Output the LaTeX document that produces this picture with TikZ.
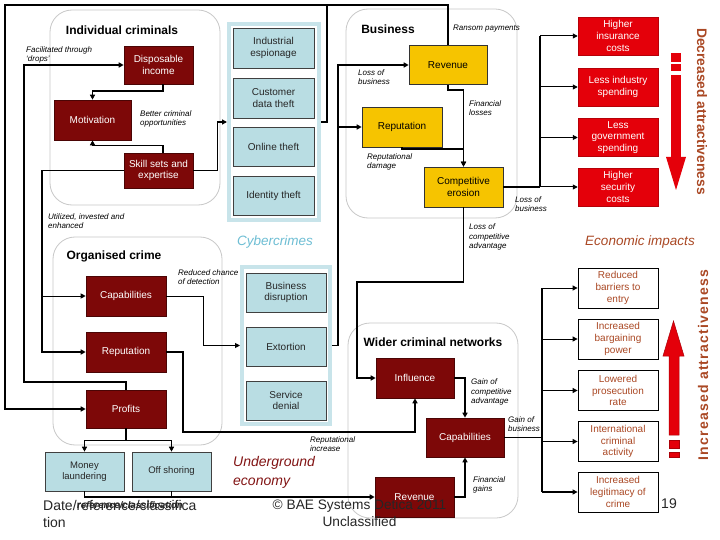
\documentclass[tikz,border=0pt]{standalone}
\usepackage{fontspec}
\setmainfont{Liberation Sans}
\usetikzlibrary{arrows.meta,calc}
\definecolor{dred}{RGB}{125,8,8}
\definecolor{gold}{RGB}{246,196,0}
\definecolor{lblue}{RGB}{185,221,227}
\definecolor{cframe}{RGB}{200,228,234}
\definecolor{bred}{RGB}{228,0,10}
\definecolor{grpgray}{RGB}{200,200,200}
\definecolor{ecbrown}{RGB}{170,72,36}
\definecolor{cybtxt}{RGB}{110,190,212}
\definecolor{ugred}{RGB}{130,20,20}
\begin{document}
\begin{tikzpicture}[x=1pt,y=-1pt,
  grp/.style={draw=grpgray, line width=0.8pt, rounded corners=22pt, rectangle},
  bx/.style={rectangle, align=center, inner sep=1pt, font=\fontsize{10}{11.8}\selectfont},
  drbox/.style={bx, fill=dred, draw=dred!60!black, line width=0.6pt, text=white, minimum width=79pt, minimum height=40pt},
  yebox/.style={bx, fill=gold, draw=black!80, line width=0.6pt, text=black, minimum width=79pt, minimum height=40pt},
  lbbox/.style={bx, fill=lblue, draw=black!75, line width=0.6pt, text=black!85, minimum width=80pt, minimum height=39pt},
  rdbox/.style={bx, fill=bred, draw=bred!80!black, line width=0.5pt, text=white, minimum width=80pt, minimum height=38pt},
  ecbox/.style={bx, fill=white, draw=black, line width=0.8pt, text=ecbrown, minimum width=80pt, minimum height=40pt},
  cframe/.style={rectangle, draw=cframe, line width=4pt, fill=white},
  ttl/.style={font=\fontsize{12}{14}\selectfont\bfseries, inner sep=0pt},
  lab/.style={font=\fontsize{8}{9.6}\selectfont\itshape, align=left, anchor=west, inner sep=0pt},
  conn/.style={line width=1.6pt},
  thinconn/.style={line width=1pt},
  arr/.style={conn, -{Triangle[length=5pt,width=5pt]}},
  tarr/.style={thinconn, -{Triangle[length=5pt,width=5pt]}}
]
\useasboundingbox (0,0) rectangle (720,540);
\fill[white] (0,0) rectangle (720,540);

% groups
\node[grp, minimum width=170pt, minimum height=195pt] (gind) at (135,107.5) {};
\node[grp, minimum width=171pt, minimum height=209pt] (gbus) at (431.5,113.5) {};
\node[grp, minimum width=169pt, minimum height=208pt] (gorg) at (137.5,341) {};
\node[grp, minimum width=170pt, minimum height=195pt] (gwid) at (433,420.5) {};

\node[ttl] (tind) at (122,30) {Individual criminals};
\node[ttl] (tbus) at (388,29) {Business};
\node[ttl] (torg) at (114,256) {Organised crime};
\node[ttl] (twid) at (433,342) {Wider criminal networks};

% cybercrime frames
\node[cframe, minimum width=90pt, minimum height=196pt] (cyb1) at (274,122) {};
\node[cframe, minimum width=88pt, minimum height=157pt] (cyb2) at (286,345.5) {};
\node[font=\fontsize{13.5}{15}\selectfont\itshape, text=cybtxt, inner sep=0pt] (tcyb) at (275,242) {Cybercrimes};

\node[lbbox, minimum width=81pt, minimum height=40pt] (ie) at (273.5,48) {Industrial\\espionage};
\node[lbbox, minimum width=81pt, minimum height=40pt] (cdt) at (273.5,98) {Customer\\data theft};
\node[lbbox, minimum width=81pt, minimum height=39pt] (ot) at (273.5,146.5) {Online theft};
\node[lbbox, minimum width=81pt, minimum height=39pt] (it) at (273.5,195.5) {Identity theft};

\node[lbbox] (bd) at (286,292.5) {Business\\disruption};
\node[lbbox] (ext) at (286,346.5) {Extortion};
\node[lbbox] (sd) at (286,400.5) {Service\\denial};

% individual criminals
\node[drbox, minimum width=69pt, minimum height=38pt] (disp) at (158.5,65) {Disposable\\income};
\node[drbox, minimum width=77pt, minimum height=40pt] (motiv) at (92.5,120) {Motivation};
\node[drbox, minimum width=69pt, minimum height=35pt] (skill) at (158.5,170.5) {Skill sets and\\expertise};

% business
\node[yebox, minimum width=78pt, minimum height=39pt] (brev) at (448,65) {Revenue};
\node[yebox, minimum width=80pt] (brep) at (402,127) {Reputation};
\node[yebox] (bcomp) at (463.5,187) {Competitive\\erosion};

% red impacts
\node[rdbox] (hic) at (618,36) {Higher\\insurance\\costs};
\node[rdbox] (lis) at (618,87) {Less industry\\spending};
\node[rdbox] (lgs) at (618,137.5) {Less\\government\\spending};
\node[rdbox] (hsc) at (618,187) {Higher\\security\\costs};

% organised crime
\node[drbox, minimum width=80pt] (ocap) at (126,296) {Capabilities};
\node[drbox, minimum width=80pt] (orep) at (126,352) {Reputation};
\node[drbox, minimum width=80pt, minimum height=38pt] (oprof) at (126,409) {Profits};
\node[lbbox, minimum width=79pt, font=\fontsize{9.5}{11.5}\selectfont] (mlaund) at (84.5,471.5) {Money\\laundering};
\node[lbbox, minimum width=79pt, font=\fontsize{9.5}{11.5}\selectfont] (offsh) at (171.5,471.5) {Off shoring};

% wider criminal networks
\node[drbox, minimum width=78pt] (infl) at (415,378) {Influence};
\node[drbox, minimum width=78pt, minimum height=39pt] (wcap) at (465,437.5) {Capabilities};
\node[drbox] (wrev) at (414.5,497) {Revenue};

% economic impacts
\node[font=\fontsize{13.5}{15}\selectfont\itshape, text=ecbrown, inner sep=0pt] (tecon) at (640,242) {Economic impacts};
\node[ecbox] (rbe) at (618,288) {Reduced\\barriers to\\entry};
\node[ecbox] (ibp) at (618,339) {Increased\\bargaining\\power};
\node[ecbox] (lpr) at (618,390.5) {Lowered\\prosecution\\rate};
\node[ecbox] (ica) at (618,441.5) {International\\criminal\\activity};
\node[ecbox] (ilc) at (618,492) {Increased\\legitimacy of\\crime};

% junction coordinates
\coordinate (tl) at (5,5);
\coordinate (fac) at (24,65);
\coordinate (uL) at (42,170.5);
\coordinate (cj) at (327,5);
\coordinate (rx) at (540,0);
\coordinate (ex) at (542,0);
\coordinate (j4) at (357,282);
\coordinate (j5) at (183,432);

% connectors
\draw[arr] (disp.south) ++(4.5,0) -- ++(0,7) -| (motiv.north);
\draw[arr] (skill.north) ++(4.5,0) -- ++(0,-7) -| (motiv.south);
\draw[arr] (skill.east) -- ++(24,0) |- (cyb1.west);
\draw[arr] (skill.west) -- (uL) |- (orep.west);
\draw[tarr] (uL |- ocap.west) -- (ocap.west);
\draw[arr] (oprof.north) -- ++(0,-8) -| (fac) -- (disp.west);
\draw[arr] (brev.north) |- (tl) |- (oprof.west);
\draw[conn] (cyb1.east) -| (cj);
\draw[arr] (brep.south) -- ++(0,2) -| (bcomp.north);
\draw[arr] (brev.south) -- ++(0,5) -| (bcomp.north);
\draw[arr] (cyb2.east) -- ++(6,0) |- (brev.west);
\draw[arr] (cyb2.east) ++(6,0) |- (brep.west);
\draw[conn] (bcomp.east) -- (rx |- bcomp.east);
\draw[conn] (rx |- hic.west) -- (rx |- hsc.west);
\draw[tarr] (rx |- hic.west) -- (hic.west);
\draw[tarr] (rx |- lis.west) -- (lis.west);
\draw[tarr] (rx |- lgs.west) -- (lgs.west);
\draw[tarr] (rx |- hsc.west) -- (hsc.west);
\draw[arr] (bcomp.south) |- (j4) |- (infl.west);
\draw[tarr] (ocap.east) -- ++(37,0) |- (cyb2.west);
\draw[arr] (orep.east) -| (j5) -| (infl.south);
\draw[arr] (oprof.south) -- ++(0,12) -| (mlaund.north);
\draw[arr] (oprof.south) -- ++(0,12) -| (offsh.north);
\draw[arr] (mlaund.south) |- (wrev.west);
\draw[conn] (offsh.south) -- ++(0,6);
\draw[arr] (infl.east) -| (wcap.north);
\draw[arr] (wrev.east) -| (wcap.south);
\draw[conn] (wcap.east) -- (ex |- wcap.east);
\draw[conn] (ex |- rbe.west) -- (ex |- ilc.west);
\draw[tarr] (ex |- rbe.west) -- (rbe.west);
\draw[tarr] (ex |- ibp.west) -- (ibp.west);
\draw[tarr] (ex |- lpr.west) -- (lpr.west);
\draw[arr] (ex |- ica.west) -- (ica.west);
\draw[arr] (ex |- ilc.west) -- (ilc.west);

% italic labels
\node[lab] (l1) at (26,55) {Facilitated through\\‘drops’};
\node[lab] (l2) at (140,119) {Better criminal\\opportunities};
\node[lab] (l3) at (48,221) {Utilized, invested and\\enhanced};
\node[lab] (l4) at (358,77) {Loss of\\business};
\node[lab] (l5) at (453,29) {Ransom payments};
\node[lab] (l6) at (469,108) {Financial\\losses};
\node[lab] (l7) at (367,162) {Reputational\\damage};
\node[lab] (l8) at (515,204) {Loss of\\business};
\node[lab] (l9) at (469,237) {Loss of\\competitive\\advantage};
\node[lab] (l10) at (178,277) {Reduced chance\\of detection};
\node[lab] (l11) at (310,444) {Reputational\\increase};
\node[lab] (l12) at (471,392) {Gain of\\competitive\\advantage};
\node[lab] (l13) at (508,424) {Gain of\\business};
\node[lab] (l14) at (473,485) {Financial\\gains};

% underground economy
\node[font=\fontsize{14}{19}\selectfont\itshape, text=ugred, align=left, anchor=west, inner sep=0pt] (tug) at (233,472.5) {Underground\\economy};

% attractiveness arrows
\fill[bred] (671,53) rectangle (681,62);
\fill[bred] (671,64) rectangle (681,71);
\fill[bred] (671,75) rectangle (681,157);
\fill[bred] (666,157) -- (686,157) -- (676,190) -- cycle;
\filldraw[fill=bred, draw=bred!75!black, line width=0.5pt] (673.5,321) -- (684,356) -- (679,356) -- (679,435) -- (669,435) -- (669,356) -- (663,356) -- cycle;
\filldraw[fill=bred, draw=bred!75!black, line width=0.5pt] (669,440) rectangle (679,448);
\filldraw[fill=bred, draw=bred!75!black, line width=0.5pt] (669,452) rectangle (679,457);
\node[rotate=-90, font=\fontsize{13.8}{15}\selectfont\bfseries, text=ecbrown, inner sep=0pt] (tdec) at (702,111.5) {Decreased attractiveness};
\node[rotate=90, font=\fontsize{14}{15}\selectfont\bfseries\addfontfeature{LetterSpace=9}, text=ecbrown, inner sep=0pt] (tinc) at (703,365) {Increased attractiveness};

% footer
\node[font=\fontsize{14}{17}\selectfont, text=black!85, align=left, anchor=west, inner sep=0pt] (fdate) at (43,513.5) {Date/reference/classifica\\tion};
\node[font=\fontsize{9.5}{11}\selectfont\bfseries\itshape, text=black!85, anchor=west, inner sep=0pt] (fref) at (77,505.5) {reference/classification};
\node[font=\fontsize{13.7}{17}\selectfont, text=black!85, align=center, inner sep=0pt] (fcopy) at (359.5,513.5) {© BAE Systems Detica 2011\\Unclassified};
\node[font=\fontsize{14}{17}\selectfont, text=black!85, inner sep=0pt] (fpage) at (669,504) {19};
\end{tikzpicture}
\end{document}
